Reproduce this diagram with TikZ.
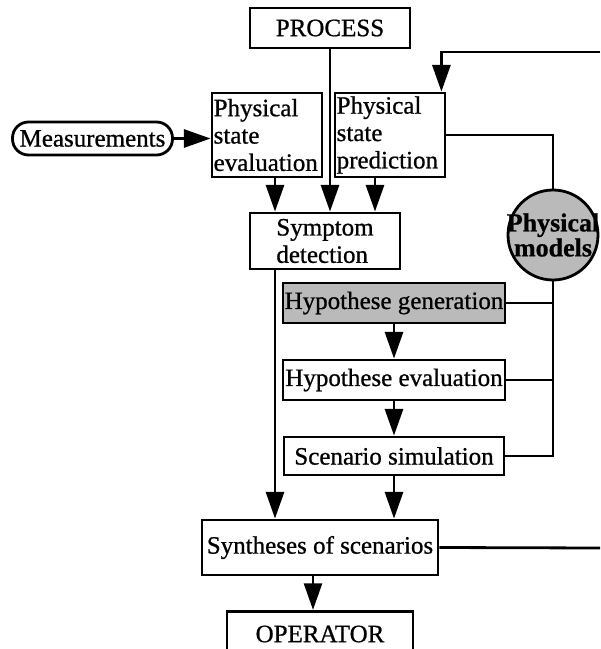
\documentclass[tikz,border=0pt]{standalone}
\usepackage{fontspec}
\setmainfont{Liberation Serif}[FakeBold=0.8]
\usetikzlibrary{arrows.meta}

\begin{document}
\begin{tikzpicture}[x=0.75pt,y=-0.75pt,line width=2.1pt,>={Triangle[length=20pt,width=13.5pt]},font=\fontsize{18.75}{20.5}\selectfont]
\tikzstyle{block}=[draw,inner sep=1pt,minimum height=30pt]
\tikzstyle{shaded}=[fill=black!27]
\useasboundingbox (0,0) rectangle (600,649);
\node [block,minimum width=120pt] (process) at (330,28) {PROCESS};
\node [block,rounded corners=12pt,minimum width=120pt,minimum height=24.75pt] (meas) at (92.5,138.5) {Measurements};
\node [block,minimum width=82.5pt,minimum height=63pt,text width=80pt,align=left] (eval) at (267,135) {Physical\\state\\evaluation};
\node [block,minimum width=82.5pt,minimum height=63pt,text width=80pt,align=left] (pred) at (390,135) {Physical\\state\\prediction};
\node [block,minimum width=112.5pt,minimum height=42pt,align=left] (symp) at (325,241) {Symptom\\detection};
\node [circle,draw,shaded,minimum size=67.5pt,
       label={[align=center,font=\bfseries\fontsize{19.5}{16.5}\selectfont]center:Physical\\models}] (models) at (553,235) {};
\node [block,shaded,minimum width=166.5pt] (hgen) at (394,303) {Hypothese generation};
\node [block,minimum width=166.5pt] (heval) at (394,380) {Hypothese evaluation};
\node [block,minimum width=165pt,minimum height=28.5pt] (ssim) at (394,456) {Scenario simulation};
\node [block,minimum width=177pt,minimum height=41.25pt] (synth) at (320,547.5) {Syntheses of scenarios};
\node [block,minimum width=139.5pt,minimum height=34pt] (oper) at (320,634) {OPERATOR};
\coordinate (fbin) at (600,52);
\coordinate (fbout) at (600,548);
\draw [->] (meas.east) -- (meas.east -| eval.west);
\draw [->] (process) -- (process |- symp.north);
\draw [->] (fbin) -| ([xshift=-3.75pt]pred.north east);
\draw [->] ([xshift=6pt]eval.south) -- ([xshift=6pt]eval.south |- symp.north);
\draw [->] ([xshift=-11.25pt]pred.south) -- ([xshift=-11.25pt]pred.south |- symp.north);
\draw (pred.east) -| (models.north);
\draw (models.south) |- (ssim.east);
\draw (hgen.east) -- (hgen.east -| models.south);
\draw (heval.east) -- (heval.east -| models.south);
\draw [->] (hgen) -- (heval);
\draw [->] (heval) -- (ssim);
\draw [->] ([xshift=-37.5pt]symp.south) -- ([xshift=-37.5pt]symp.south |- synth.north);
\draw [->] (ssim) -- (ssim |- synth.north);
\draw (synth.east) -- (fbout);
\draw [->] ([xshift=-5.25pt]synth.south) -- ([xshift=-5.25pt]synth.south |- oper.north);
\end{tikzpicture}
\end{document}
